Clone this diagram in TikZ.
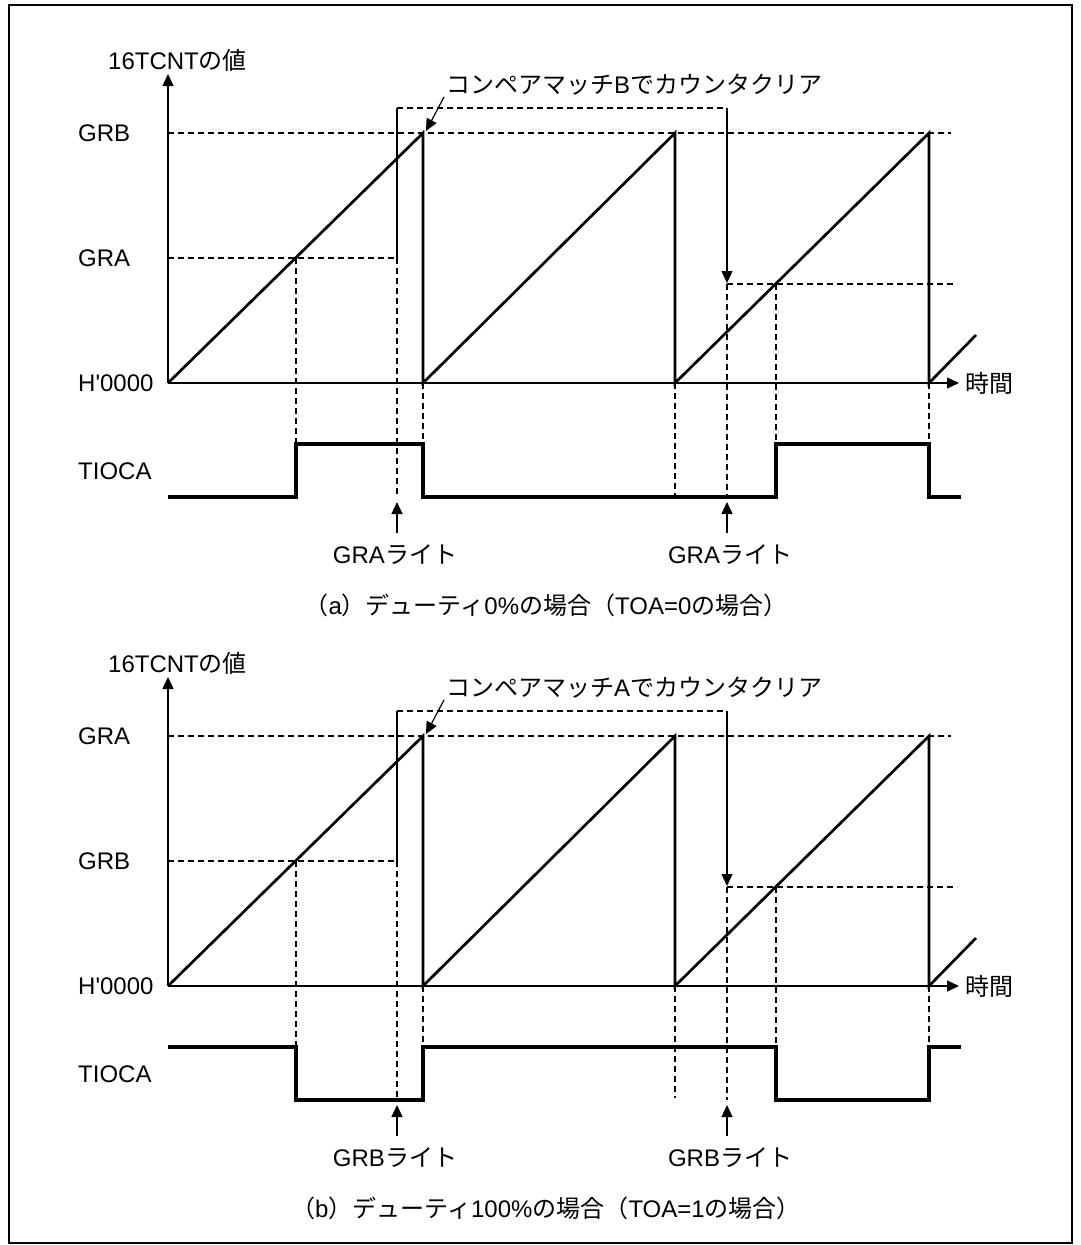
\documentclass[tikz,border=0pt]{standalone}
\usepackage{fontspec}
\setmainfont{Liberation Sans}[Ligatures=TeXOff]
\newfontfamily\jpfont{Noto Sans CJK JP}
\usetikzlibrary{arrows.meta}
\newcommand\J[1]{{\jpfont #1}}
\tikzset{
  lbl/.style={inner sep=0pt, font=\fontsize{24}{28}\selectfont},
  dsh/.style={line width=1.1pt, dash pattern=on 6pt off 4pt},
  axis/.style={line width=1.4pt},
  thinln/.style={line width=1.2pt},
  ramp/.style={line width=2.7pt, line join=miter},
  wave/.style={line width=3.2pt, line join=miter},
  tip/.style={-{Triangle[length=12pt,width=11pt]}},
  frame/.style={line width=1.2pt}
}
% #1 prefix, #2 yshift, #3 top label, #4 mid label, #5 letter,
% #6 write label, #7 caption, #8 first level, #9 second level
\newcommand\tpanel[9]{%
\begin{scope}[yshift=#2]
  \coordinate (#1O) at (168,383);
  \coordinate (#1Ytip) at (168,74);
  \coordinate (#1Xtip) at (959,383);
  \node[lbl,anchor=west] (#1ylab) at (108,60) {16TCNT\J{の値}};
  \node[lbl,anchor=west] (#1tx) at (965,383) {\J{時間}};
  \node[lbl,anchor=west] (#1ltop) at (78,133) {#3};
  \node[lbl,anchor=west] (#1lmid) at (78,258) {#4};
  \node[lbl,anchor=west] (#1lzero) at (78,383) {H'0000};
  \node[lbl,anchor=west] (#1ltio) at (78,471) {TIOCA};
  % key points
  \coordinate (#1T1) at (423,133); \coordinate (#1B1) at (423,383);
  \coordinate (#1T2) at (675,133); \coordinate (#1B2) at (675,383);
  \coordinate (#1T3) at (929,133); \coordinate (#1B3) at (929,383);
  \coordinate (#1E) at (976,335);
  \coordinate (#1P1) at (296,258); \coordinate (#1P2) at (776,284);
  \coordinate (#1G1) at (168,133); \coordinate (#1G1e) at (951,133);
  \coordinate (#1G2) at (168,258); \coordinate (#1K1) at (397,258);
  \coordinate (#1K2) at (397,108); \coordinate (#1K3) at (727,108);
  \coordinate (#1K4) at (727,284); \coordinate (#1K5) at (957,284);
  \coordinate (#1K4t) at (727,283);
  % dashed guide lines
  \draw[dsh] (#1G1) -- (#1G1e);
  \draw[dsh] (#1G2) -- (#1K1);
  \draw[dsh] (#1K2) -- (#1K3);
  \draw[dsh] (#1K4) -- (#1K5);
  \draw[dsh] (#1P1) -- (296,444);
  \draw[dsh] (#1K1) -- (397,497);
  \draw[dsh] (#1B1) -- (423,444);
  \draw[dsh] (#1B2) -- (675,495);
  \draw[dsh] (#1K4) -- (727,497);
  \draw[dsh] (#1P2) -- (776,444);
  \draw[dsh] (#1B3) -- (929,444);
  % compare-match path
  \draw[thinln] (#1K1) -- (#1K2);
  \draw[thinln,tip] (#1K3) -- (#1K4t);
  % axes
  \draw[axis,tip] (#1O) -- (#1Ytip);
  \draw[axis,tip] (#1O) -- (#1Xtip);
  % counter ramps
  \draw[ramp] (#1O) -- (#1T1) -- (#1B1) -- (#1T2) -- (#1B2) -- (#1T3) -- (#1B3) -- (#1E);
  % annotation
  \node[lbl,anchor=west] (#1ann) at (446,85) {\J{コンペアマッチ}#5\J{でカウンタクリア}};
  \coordinate (#1annS) at (444,97);
  \coordinate (#1annE) at (426,131);
  \draw[thinln,tip] (#1annS) -- (#1annE);
  % TIOCA waveform
  \draw[wave] (168,#8) -- (296,#8) -- (296,#9) -- (423,#9) -- (423,#8)
     -- (776,#8) -- (776,#9) -- (929,#9) -- (929,#8) -- (961,#8);
  % write arrows
  \coordinate (#1W1s) at (397,533); \coordinate (#1W1t) at (397,502);
  \coordinate (#1W2s) at (727,533); \coordinate (#1W2t) at (727,502);
  \draw[thinln,tip] (#1W1s) -- (#1W1t);
  \draw[thinln,tip] (#1W2s) -- (#1W2t);
  \node[lbl] (#1w1) at (395,555) {#6\J{ライト}};
  \node[lbl] (#1w2) at (730,555) {#6\J{ライト}};
  \node[lbl] (#1cap) at (546,605) {#7};
\end{scope}}
\begin{document}
\begin{tikzpicture}[x=1pt,y=-1pt]
  \useasboundingbox (0,0) rectangle (1080,1245);
  \fill[white] (0,0) rectangle (1080,1245);
  \draw[frame] (9,5) rectangle (1072,1243);
  \tpanel{a}{0pt}{GRB}{GRA}{B}{GRA}{\J{（}a\J{）デューティ}0\%\J{の場合（}TOA=0\J{の場合）}}{497}{444}
  \tpanel{b}{-603pt}{GRA}{GRB}{A}{GRB}{\J{（}b\J{）デューティ}100\%\J{の場合（}TOA=1\J{の場合）}}{444}{497}
\end{tikzpicture}
\end{document}
